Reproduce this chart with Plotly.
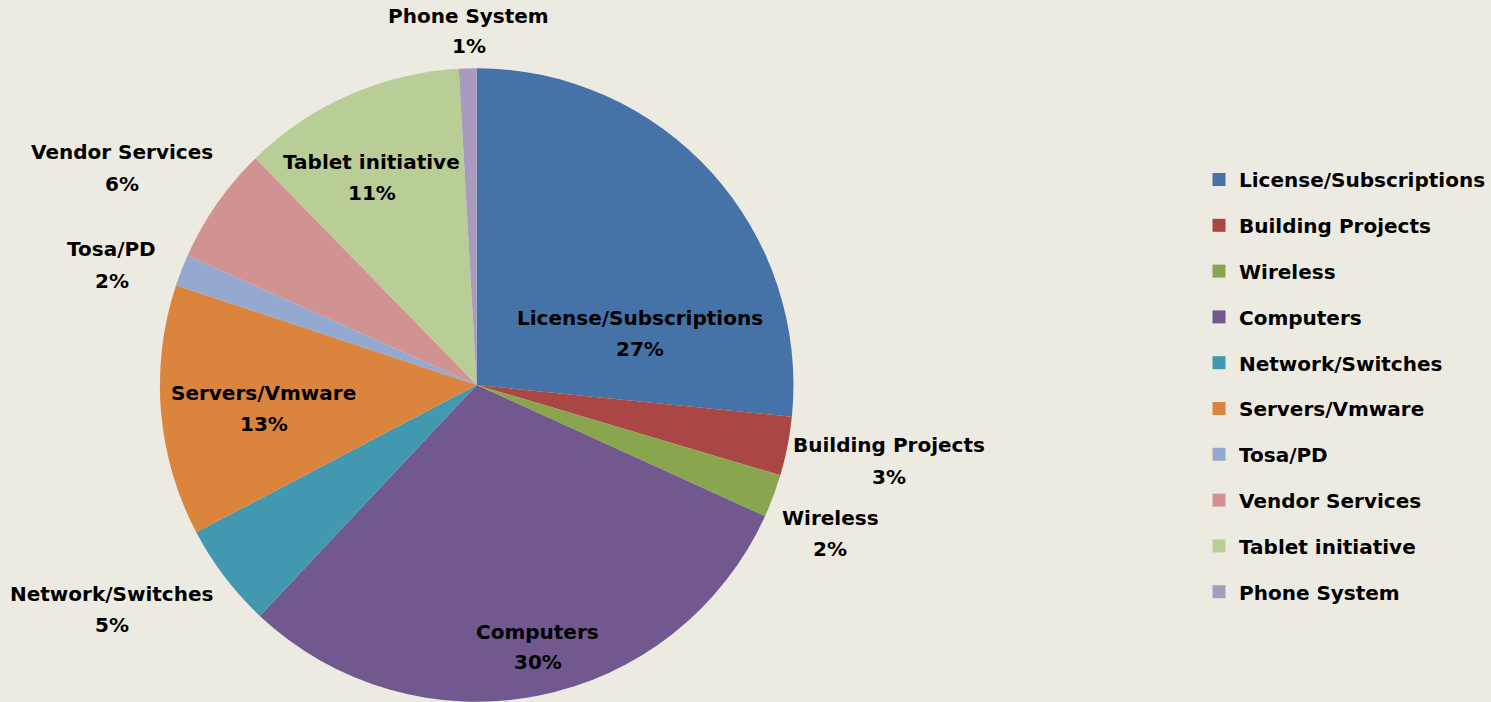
import plotly.graph_objects as go

categories = [
    "License/Subscriptions", "Building Projects", "Wireless", "Computers",
    "Network/Switches", "Servers/Vmware", "Tosa/PD", "Vendor Services",
    "Tablet initiative", "Phone System",
]
shares = [26.6, 3.0, 2.2, 30.2, 5.3, 12.8, 1.6, 6.0, 11.4, 0.9]
colors = [
    "#4572A7", "#AA4643", "#89A54E", "#71588F", "#4198AF",
    "#DB843D", "#93A9CF", "#D19392", "#B9CD96", "#A99BBD",
]

W, H = 1491, 702
FONT = "DejaVu Sans"
BG = "#EDEBE1"

# data label placement (pixel centre of name line and of percent line)
label_xy = [
    (640, 318, 349), (890, 445, 477), (831, 518, 549), (538, 632, 662),
    (112, 594, 625), (264, 393, 424), (112, 249, 281), (122, 152, 184),
    (372, 162, 193), (469, 16, 46),
]

fig = go.Figure()
fig.add_trace(
    go.Pie(
        labels=categories,
        values=shares,
        sort=False,
        direction="clockwise",
        rotation=0,
        marker=dict(colors=colors, line=dict(width=0)),
        textinfo="none",
        showlegend=False,
        domain=dict(x=[160 / W, 794 / W], y=[0, 634 / H]),
        hoverinfo="label+percent",
    )
)

# legend entries, one group each so the gap between them can be set
for i, (name, col) in enumerate(zip(categories, colors)):
    fig.add_trace(
        go.Scatter(
            x=[None], y=[None], mode="markers", name=name,
            legendgroup=f"g{i}",
            marker=dict(symbol="square", size=13, color=col),
        )
    )

lab_font = dict(family=FONT, size=20, color="black", weight="bold")
total = sum(shares)
for name, val, (px, py1, py2) in zip(categories, shares, label_xy):
    fig.add_annotation(
        x=px / W, y=1 - py1 / H, xref="paper", yref="paper",
        text=name, showarrow=False, font=lab_font,
        xanchor="center", yanchor="middle",
    )
    fig.add_annotation(
        x=px / W, y=1 - py2 / H, xref="paper", yref="paper",
        text=f"{round(100 * val / total)}%", showarrow=False, font=lab_font,
        xanchor="center", yanchor="middle",
    )

fig.update_layout(
    width=W, height=H,
    margin=dict(l=0, r=0, t=0, b=0),
    paper_bgcolor=BG, plot_bgcolor=BG,
    xaxis=dict(visible=False), yaxis=dict(visible=False),
    legend=dict(
        x=1200 / W, xanchor="left", y=1 - 160 / H, yanchor="top",
        font=lab_font,
        tracegroupgap=16.8, bgcolor="rgba(0,0,0,0)", itemwidth=30,
    ),
)

fig.write_html(
    "out.html",
    config={"displayModeBar": False},
    post_script="document.body.style.margin='0';"
    f"document.body.style.background='{BG}';",
)
